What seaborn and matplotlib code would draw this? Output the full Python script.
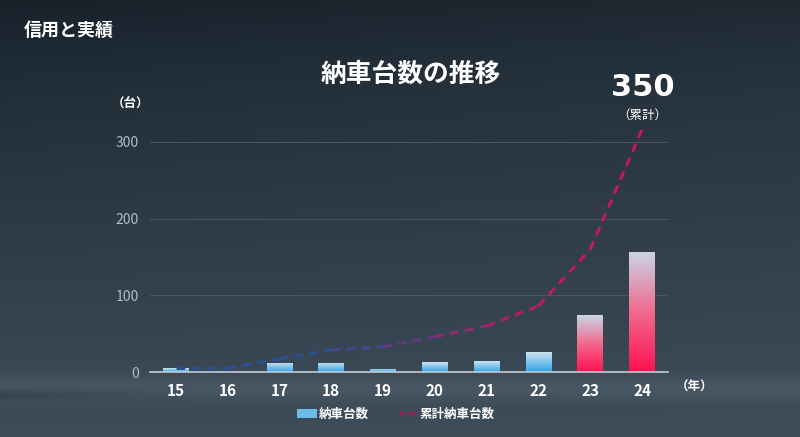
import numpy as np
import pandas as pd
import matplotlib
matplotlib.use("Agg")
import matplotlib.pyplot as plt
import seaborn as sns
from matplotlib.colors import LinearSegmentedColormap, to_rgb
from matplotlib.patches import Patch
from matplotlib.lines import Line2D

# ------------------------------------------------------------
# Datos
# ------------------------------------------------------------
years = ["15", "16", "17", "18", "19", "20", "21", "22", "23", "24"]
deliveries = [5, 0, 12, 12, 4, 13, 14, 26, 74, 156]
cumulative = [5, 5, 17, 29, 33, 46, 60, 86, 160, 316]
highlight = ["23", "24"]
y_ticks = [0, 100, 200, 300]

sns.set_theme(style="white")
plt.rcParams["font.family"] = ["Noto Sans CJK JP", "DejaVu Sans"]

fig = plt.figure(figsize=(8, 4.37), dpi=100)

# fondo degradado
bg = fig.add_axes([0, 0, 1, 1], zorder=-10)
h, w = 200, 400
yy = np.linspace(0, 1, h)[:, None]
xx = np.linspace(0, 1, w)[None, :]
top = np.array([22, 33, 42]) / 255
bot = np.array([62, 77, 90]) / 255
img = top + (bot - top) * (yy ** 0.8)[..., None] + 0.03 * xx[..., None] * (1 - yy[..., None])
# franja de bruma y tierra oscura abajo a la izquierda
haze = np.exp(-((yy - 0.89) / 0.03) ** 2)[..., None] * 0.05
land = (np.exp(-((yy - 0.905) / 0.012) ** 2) * np.clip(1 - xx / 0.25, 0, 1))[..., None] * 0.06
img = np.clip(img + haze - land, 0, 1)
bg.imshow(img, aspect="auto", extent=[0, 1, 0, 1], origin="upper")
bg.axis("off")

ax = fig.add_axes([0.1875, 0.1487, 0.6475, 0.597])
ax.set_facecolor("none")

df = pd.DataFrame({"year": years, "deliveries": deliveries})
sns.barplot(df, x="year", y="deliveries", width=0.5, ax=ax, color="white", zorder=3)

blue_cmap = LinearSegmentedColormap.from_list("b", ["#2fa4e4", "#cfe2f3"])
red_cmap = LinearSegmentedColormap.from_list("r", ["#ff1050", "#f06a8e", "#c9d5e6"])
grad = np.linspace(0, 1, 256)[:, None]
for patch, yr in zip(ax.patches, years):
    x0, y0 = patch.get_x(), patch.get_y()
    pw, ph = patch.get_width(), patch.get_height()
    if ph <= 0:
        continue
    cmap = red_cmap if yr in highlight else blue_cmap
    im = ax.imshow(grad, cmap=cmap, aspect="auto", origin="lower",
                   extent=[x0, x0 + pw, y0, y0 + ph], zorder=3)
    im.set_clip_path(patch)
    patch.set_facecolor("none")
    patch.set_edgecolor("none")

# linea acumulada con degradado azul -> carmesi
c0, c1 = np.array(to_rgb("#2c4f95")), np.array(to_rgb("#c8185a"))
xs = np.arange(len(years))
for i in range(len(years) - 1):
    t = float(np.clip((i - 2.5) / 4.0, 0, 1))
    col = c0 + (c1 - c0) * t
    ax.plot(xs[i:i + 2], cumulative[i:i + 2], color=col, lw=2.1,
            ls=(0, (3, 2.2)), zorder=4, solid_capstyle="butt")

ax.set_xlim(-0.5, len(years) - 0.5)
ax.set_ylim(0, 340)
ax.set_yticks(y_ticks)
ax.set_yticklabels([str(v) for v in y_ticks], color="#b3bcc6", fontsize=10)
ax.set_xticks(xs)
ax.set_xticklabels(years, color="white", fontsize=11, fontweight="bold")
ax.tick_params(axis="both", length=0, pad=8)
ax.set_xlabel("")
ax.set_ylabel("")
for v in y_ticks[1:]:
    ax.axhline(v, color="#4a5864", lw=0.7, zorder=1)
for s in ["top", "right", "left"]:
    ax.spines[s].set_visible(False)
ax.spines["bottom"].set_color("#c4ccd4")
ax.spines["bottom"].set_linewidth(1.2)
ax.spines["bottom"].set_zorder(5)

# textos
fig.text(0.03, 0.93, "信用と実績", color="white", fontsize=13, fontweight="bold",
         ha="left", va="center")
fig.text(0.513, 0.83, "納車台数の推移", color="white", fontsize=18.5, fontweight="bold",
         ha="center", va="center")
fig.text(0.163, 0.762, "（台）", color="white", fontsize=9, fontweight="bold",
         ha="center", va="center")
fig.text(0.868, 0.113, "（年）", color="white", fontsize=9, fontweight="bold",
         ha="center", va="center")
fig.text(0.803, 0.80, "350", color="white", fontsize=22, fontweight="bold",
         ha="center", va="center", family=["DejaVu Sans"])
fig.text(0.803, 0.737, "（累計）", color="white", fontsize=9,
         ha="center", va="center")

handles = [Patch(facecolor="#6dbbe8", edgecolor="none"),
           Line2D([0], [0], color="#b0184f", lw=2, ls=(0, (2, 1.5)))]
leg = fig.legend(handles, ["納車台数", "累計納車台数"], loc="center",
                 bbox_to_anchor=(0.495, 0.052), ncol=2, frameon=False,
                 handlelength=1.6, handletextpad=0.1, columnspacing=2.4,
                 prop={"size": 9, "weight": "bold"})
for t in leg.get_texts():
    t.set_color("white")

fig.savefig("out.png", dpi=100)
plt.close(fig)
